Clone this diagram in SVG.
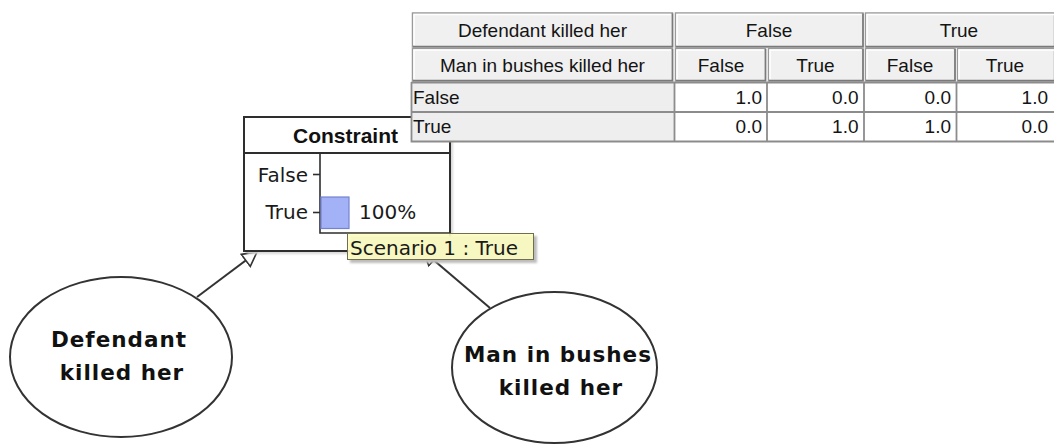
<svg xmlns="http://www.w3.org/2000/svg" width="1054" height="446" viewBox="0 0 1054 446">
  <style>
    .edge { stroke: #333; stroke-width: 2; fill: none; }
    .oval { fill: #fff; stroke: #333; stroke-width: 2; }
    .oval-text { font-family: "DejaVu Sans", sans-serif; font-weight: bold; font-size: 21.5px; letter-spacing: 1px; fill: #111; text-anchor: middle; }
    .box { fill: #fff; stroke: #2e2e2e; stroke-width: 2; }
    .axis { stroke: #2e2e2e; stroke-width: 1.6; fill: none; }
    .title { font-family: "Liberation Sans", Arial, sans-serif; font-weight: bold; font-size: 21px; fill: #111; }
    .lbl { font-family: "DejaVu Sans", sans-serif; font-size: 20px; fill: #1a1a1a; }
    .hdr { fill: #f0f0f0; stroke: #9a9a9a; stroke-width: 1.5; }
    .hdr-hi { stroke: #fff; stroke-width: 1.5; fill: none; }
    .hdr-sh { stroke: #7a7a7a; stroke-width: 1.5; fill: none; }
    .cell { fill: #fff; }
    .rowlbl { fill: #eeeeee; }
    .grid { stroke: #8c8c8c; stroke-width: 1.8; fill: none; }
    .tt { font-family: "Liberation Sans", Tahoma, sans-serif; font-size: 19px; fill: #141414; }
    .c { text-anchor: middle; }
    .r { text-anchor: end; }
  </style>
  <defs>
    <marker id="hollow" markerUnits="userSpaceOnUse" viewBox="0 0 17 18" markerWidth="17" markerHeight="18" refX="15" refY="9" orient="auto">
      <path d="M1,1.5 L15,9 L1,16.5 Z" fill="#fff" stroke="#333" stroke-width="1.6" stroke-linejoin="miter"/>
    </marker>
    <filter id="soft" x="-10%" y="-10%" width="130%" height="140%">
      <feGaussianBlur stdDeviation="1.2"/>
    </filter>
  </defs>

  <rect width="1054" height="446" fill="#fff"/>

  <!-- connectors: parent -> constraint -->
  <g id="connectors">
    <line class="edge" x1="197" y1="297" x2="257" y2="252" marker-end="url(#hollow)"/>
    <line class="edge" x1="490" y1="308" x2="423" y2="251" marker-end="url(#hollow)"/>
  </g>

  <g id="node-defendant">
    <ellipse class="oval" cx="121" cy="357" rx="111" ry="80"/>
    <text class="oval-text" x="119" y="347">Defendant</text>
    <text class="oval-text" x="122" y="380">killed her</text>
  </g>

  <g id="node-man-in-bushes">
    <ellipse class="oval" cx="554.5" cy="367.5" rx="102.5" ry="75.5"/>
    <text class="oval-text" x="558" y="362">Man in bushes</text>
    <text class="oval-text" x="561" y="395">killed her</text>
  </g>

  <g id="node-constraint">
    <rect x="247" y="120" width="206" height="134" fill="#d8d8d8" filter="url(#soft)"/>
    <rect class="box" x="244" y="117" width="206" height="134"/>
    <line class="box" x1="244" y1="153" x2="450" y2="153"/>
    <text class="title" x="293" y="143">Constraint</text>
    <!-- state axis -->
    <path class="axis" d="M320,153 V233 H450"/>
    <line class="axis" x1="313" y1="174.5" x2="320" y2="174.5"/>
    <line class="axis" x1="313" y1="212.5" x2="320" y2="212.5"/>
    <text class="lbl" x="308" y="182" text-anchor="end">False</text>
    <text class="lbl" x="308" y="219" text-anchor="end">True</text>
    <rect x="321" y="197" width="28" height="31.5" fill="#a3b2f6" stroke="#7483cf" stroke-width="1.2"/>
    <text class="lbl" x="359" y="219">100%</text>
  </g>

  <g id="cpt-table">
    <!-- header row 1 -->
    <rect class="hdr" x="412.5" y="13" width="260" height="34"/>
    <rect class="hdr" x="675.5" y="13" width="187.5" height="34"/>
    <rect class="hdr" x="865.5" y="13" width="189" height="34"/>
    <!-- header row 2 -->
    <rect class="hdr" x="412.5" y="48.5" width="260" height="32.5"/>
    <rect class="hdr" x="675.5" y="48.5" width="90" height="32.5"/>
    <rect class="hdr" x="768.5" y="48.5" width="94.5" height="32.5"/>
    <rect class="hdr" x="865.5" y="48.5" width="89.5" height="32.5"/>
    <rect class="hdr" x="957.5" y="48.5" width="97" height="32.5"/>
    <!-- bevels -->
    <path class="hdr-hi" d="M414,45.5 V14.5 H671 M677,45.5 V14.5 H861.5 M867,45.5 V14.5 H1054 M414,79.5 V50 H671 M677,79.5 V50 H764 M770,79.5 V50 H861.5 M867,79.5 V50 H953.5 M959,79.5 V50 H1054"/>
    <path class="hdr-sh" d="M413,46.5 H672.5 V13.5 M676,46.5 H863 V13.5 M866,46.5 H1054 M413,80.5 H672.5 V49 M676,80.5 H765.5 V49 M769,80.5 H863 V49 M866,80.5 H955 V49 M958,80.5 H1054"/>

    <!-- body rows -->
    <rect class="rowlbl" x="412" y="82" width="262" height="59"/>
    <rect class="cell" x="675" y="82" width="379" height="59"/>
    <path class="grid" d="M411.5,82 V141.5 H1054 M411.5,82.5 H1054 M411.5,112 H1054 M674.5,82 V141.5 M767,82 V141.5 M864,82 V141.5 M956.5,82 V141.5"/>

    <text class="tt c" x="542.5" y="36.5">Defendant killed her</text>
    <text class="tt c" x="769" y="36.5">False</text>
    <text class="tt c" x="959" y="36.5">True</text>
    <text class="tt c" x="542.5" y="71.5">Man in bushes killed her</text>
    <text class="tt c" x="721" y="71.5">False</text>
    <text class="tt c" x="815.5" y="71.5">True</text>
    <text class="tt c" x="910" y="71.5">False</text>
    <text class="tt c" x="1005" y="71.5">True</text>

    <text class="tt" x="413" y="104">False</text>
    <text class="tt r" x="762" y="104">1.0</text>
    <text class="tt r" x="858.5" y="104">0.0</text>
    <text class="tt r" x="951" y="104">0.0</text>
    <text class="tt r" x="1048" y="104">1.0</text>

    <text class="tt" x="413" y="133">True</text>
    <text class="tt r" x="762" y="133">0.0</text>
    <text class="tt r" x="858.5" y="133">1.0</text>
    <text class="tt r" x="951" y="133">1.0</text>
    <text class="tt r" x="1048" y="133">0.0</text>
  </g>

  <g id="tooltip">
    <rect x="350" y="236" width="187" height="27" fill="#bdbdbd" filter="url(#soft)"/>
    <rect x="347.5" y="233.5" width="186" height="26" fill="#fdfdc2" fill-opacity="0.9" stroke="#6f6f50" stroke-width="1"/>
    <text class="lbl" x="350" y="255">Scenario 1 : True</text>
  </g>
</svg>
